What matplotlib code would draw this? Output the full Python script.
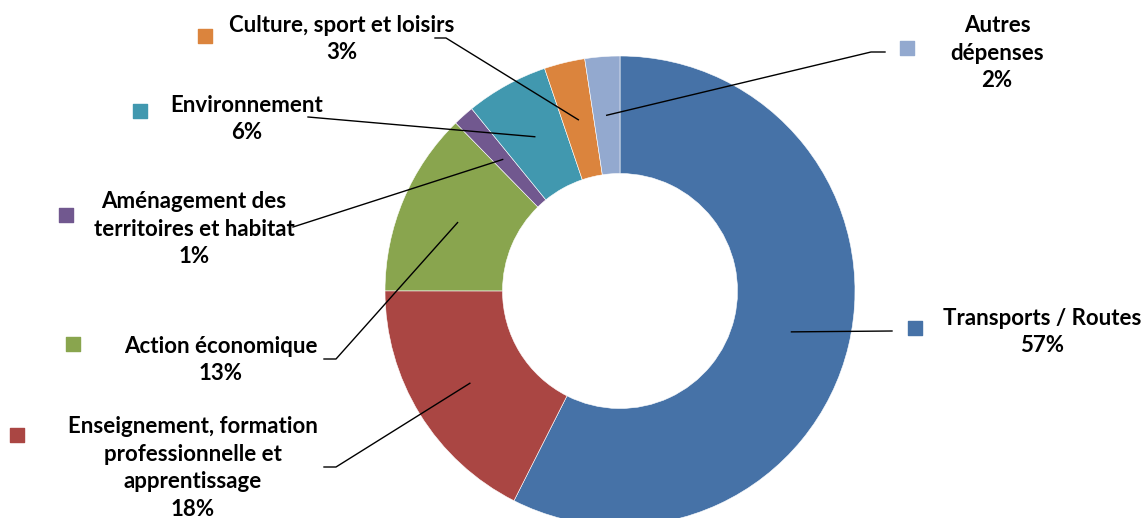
import numpy as np
import matplotlib
matplotlib.use("Agg")
import matplotlib.pyplot as plt

# budget shares (%), clockwise from 12 o'clock
categories = ["Transports / Routes",
              "Enseignement, formation\nprofessionnelle et\napprentissage",
              "Action économique",
              "Aménagement des\nterritoires et habitat",
              "Environnement",
              "Culture, sport et loisirs",
              "Autres\ndépenses"]
shares = [57.45, 17.56, 12.67, 1.45, 5.67, 2.8, 2.4]
colors = ["#4672A7", "#AA4643", "#89A54E", "#71588F", "#4198AF", "#DB843D", "#93A9CF"]

# layout in pixels of the 1141x518 picture
W, H = 1141, 518
CX, CY, R = 620, 291, 235

def px(x, y):
    return (x - CX) / R, (CY - y) / R

# text centre, legend square centre, leader points on the label side
text_pos = [(1042, 332), (193, 468), (221, 360), (194, 229), (247, 119), (342, 39), (997, 53)]
square_pos = [(915, 328), (17, 435), (73, 344), (66, 215), (140, 111), (205, 36), (907, 48)]
leader_pts = [[(892, 331)],
              [(324, 467), (336, 467)],
              [(324, 359), (336, 359)],
              [(293, 227)],
              [(308, 117)],
              [(435, 38), (446, 38)],
              [(885, 52), (871, 52)]]

plt.rcParams['font.family'] = ['Lato', 'DejaVu Sans']

fig = plt.figure(figsize=(W / 100, H / 100), dpi=100)
ax = fig.add_axes([0, 0, 1, 1])

wedges, _ = ax.pie(shares, colors=colors, startangle=90, counterclock=False,
                   radius=1, wedgeprops=dict(width=0.5, edgecolor="white", linewidth=0.4))

ax.set_xlim(-CX / R, (W - CX) / R)
ax.set_ylim(-(H - CY) / R, CY / R)
ax.set_aspect("equal")
ax.axis("off")

for w, name, val, tp, sp, lp in zip(wedges, categories, shares, text_pos, square_pos, leader_pts):
    mid = np.deg2rad((w.theta1 + w.theta2) / 2)
    end = (0.75 * np.cos(mid), 0.75 * np.sin(mid))
    pts = [px(*p) for p in lp] + [end]
    ax.plot([p[0] for p in pts], [p[1] for p in pts], color="black", lw=1, zorder=3)
    ax.scatter(*px(*sp), marker="s", s=100, color=w.get_facecolor(), zorder=3)
    ax.text(*px(*tp), f"{name}\n{val:.0f}%", ha="center", va="center",
            fontsize=16, fontweight="bold", linespacing=1.38, zorder=4)

fig.savefig("out.png", dpi=100)
